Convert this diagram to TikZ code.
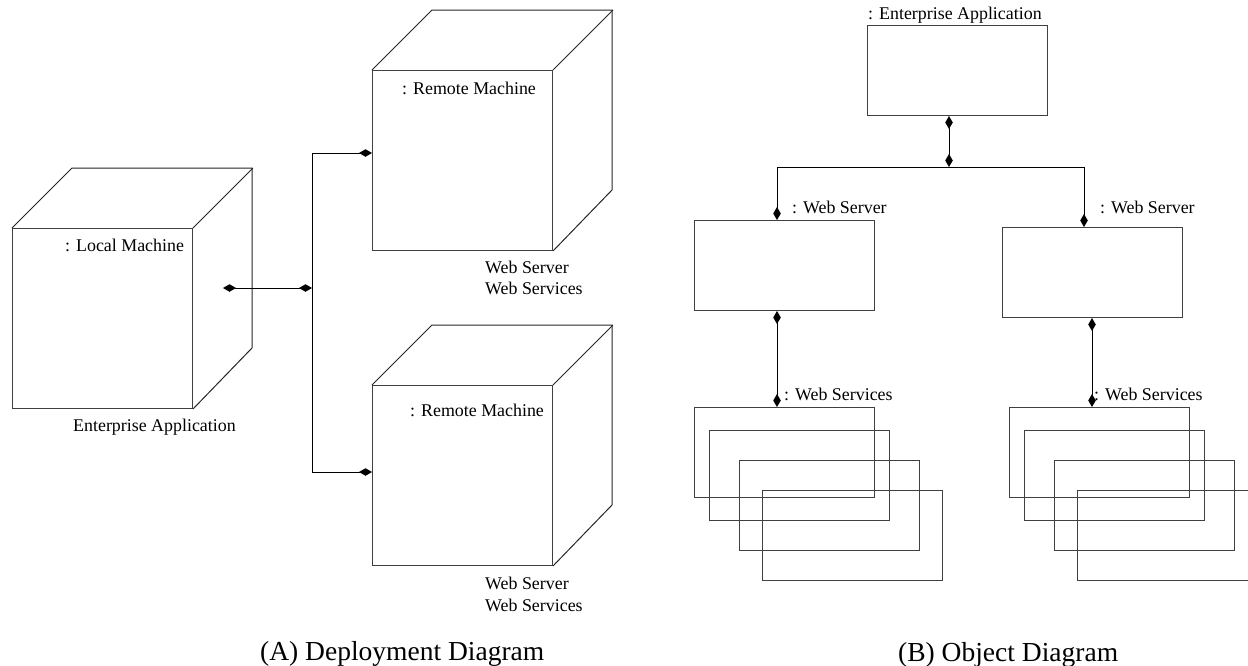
\documentclass[tikz,border=0pt]{standalone}
\usepackage{fontspec}
\setmainfont{Liberation Serif}
\usetikzlibrary{arrows.meta}
\begin{document}
\begin{tikzpicture}[x=1pt,y=-1pt,
  box/.style={draw=black!75, line width=1pt, minimum width=180pt, minimum height=90pt, inner sep=0pt, anchor=north west},
  face/.style={draw=black!75, line width=1pt, minimum width=180pt, minimum height=180pt, inner sep=0pt, anchor=north west},
  edgethree/.style={draw=black!85, line width=1pt},
  conn/.style={draw=black, line width=1pt},
  dm/.tip={Diamond[length=13pt,width=7.5pt]},
  lbl/.style={font=\fontsize{17.9}{21.5}\selectfont, inner sep=0pt, anchor=base west},
  captxt/.style={font=\fontsize{27.5}{33}\selectfont, inner sep=0pt, anchor=base west}]
\useasboundingbox (0,0) rectangle (1248,665);

% ---------- (A) Deployment diagram ----------
\node[face] (lm) at (12,228) {};
\draw[edgethree] (lm.north west) -- ++(60,-60) -- ++(180,0) -- ++(0,180) -- (lm.south east);
\draw[edgethree] (lm.north east) -- ++(60,-60);

\node[face] (rm1) at (372,70) {};
\draw[edgethree] (rm1.north west) -- ++(60,-60) -- ++(180,0) -- ++(0,180) -- (rm1.south east);
\draw[edgethree] (rm1.north east) -- ++(60,-60);

\node[face] (rm2) at (372,385) {};
\draw[edgethree] (rm2.north west) -- ++(60,-60) -- ++(180,0) -- ++(0,180) -- (rm2.south east);
\draw[edgethree] (rm2.north east) -- ++(60,-60);

\node[lbl] (lml) at (65,251) {: Local Machine};
\node[lbl] (lmea) at (73,431) {Enterprise Application};
\node[lbl] (rm1l) at (402,94) {: Remote Machine};
\node[lbl] (rm1a) at (485,273) {Web Server};
\node[lbl] (rm1b) at (485,294) {Web Services};
\node[lbl] (rm2l) at (410,416) {: Remote Machine};
\node[lbl] (rm2a) at (485,589) {Web Server};
\node[lbl] (rm2b) at (485,611) {Web Services};

\coordinate (lt) at (223,288);
\coordinate (jm) at (312,288);
\coordinate (j1) at (312,153);
\coordinate (j2) at (312,472);
\draw[conn, dm-dm] (lt) -- (jm);
\draw[conn] (j1) -- (j2);
\draw[conn, -dm] (j1) -- (rm1.west |- j1);
\draw[conn, -dm] (j2) -- (rm2.west |- j2);

\node[captxt] (capa) at (260,660) {(A) Deployment Diagram};

% ---------- (B) Object diagram ----------
\node[box] (ea) at (867,25) {};
\node[lbl] (eal) at (868,19) {: Enterprise Application};

\node[box] (ws1) at (694,220) {};
\node[lbl] (ws1l) at (792,213) {: Web Server};
\node[box] (ws2) at (1002,227) {};
\node[lbl] (ws2l) at (1100,213) {: Web Server};

\node[box] (wsa1) at (694,407) {};
\node[box] (wsa2) at (709,430) {};
\node[box] (wsa3) at (739,460) {};
\node[box] (wsa4) at (762,490) {};
\node[lbl] (wsal) at (784,400) {: Web Services};

\node[box] (wsb1) at (1009,407) {};
\node[box] (wsb2) at (1024,430) {};
\node[box] (wsb3) at (1054,460) {};
\node[box] (wsb4) at (1077,490) {};
\node[lbl] (wsbl) at (1094,400) {: Web Services};

\coordinate (oj) at (949,167);
\coordinate (ojl) at (777,167);
\coordinate (ojr) at (1084,167);
\coordinate (cl) at (777,0);
\coordinate (cr) at (1092,0);
\draw[conn, dm-dm] (oj |- ea.south) -- (oj);
\draw[conn] (ojl) -- (ojr);
\draw[conn, -dm] (ojl) -- (ojl |- ws1.north);
\draw[conn, -dm] (ojr) -- (ojr |- ws2.north);
\draw[conn, dm-dm] (cl |- ws1.south) -- (cl |- wsa1.north);
\draw[conn, dm-dm] (cr |- ws2.south) -- (cr |- wsb1.north);

\node[captxt] (capb) at (898,661) {(B) Object Diagram};
\end{tikzpicture}
\end{document}
